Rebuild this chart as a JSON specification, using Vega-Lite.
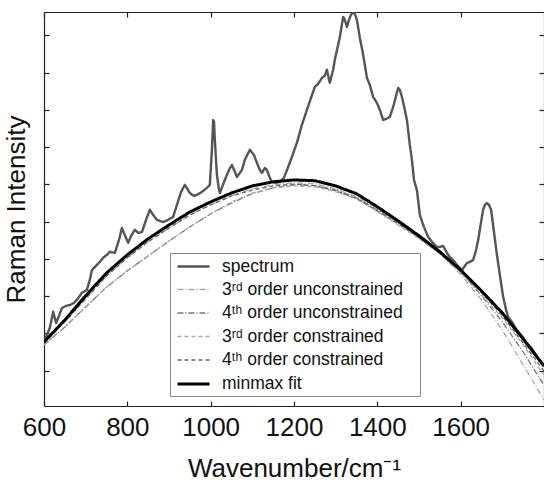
{
  "$schema": "https://vega.github.io/schema/vega-lite/v6.json",
  "width": 500,
  "height": 394,
  "autosize": {"type": "none"},
  "padding": {"left": 44, "top": 12, "right": 0, "bottom": 77},
  "background": "white",
  "config": {
    "view": {"stroke": null},
    "font": "Liberation Sans",
    "axis": {"grid": false, "domainColor": "#222", "tickColor": "#222", "domainWidth": 1.2, "tickWidth": 1.2}
  },
  "datasets": {
    "spectrum": [
      {"w":600,"v":1.77},{"w":607,"v":1.96},{"w":614,"v":2.15},{"w":622,"v":2.58},{"w":629,"v":2.28},{"w":636,"v":2.47},{"w":643,"v":2.68},{"w":653,"v":2.74},{"w":662,"v":2.76},{"w":672,"v":2.82},{"w":679,"v":2.90},{"w":691,"v":3.09},{"w":703,"v":3.17},{"w":710,"v":3.44},{"w":715,"v":3.70},{"w":727,"v":3.84},{"w":734,"v":3.92},{"w":742,"v":4.03},{"w":751,"v":4.11},{"w":758,"v":4.19},{"w":770,"v":4.16},{"w":780,"v":4.51},{"w":787,"v":4.83},{"w":794,"v":4.64},{"w":802,"v":4.43},{"w":809,"v":4.62},{"w":818,"v":4.78},{"w":826,"v":4.70},{"w":835,"v":4.72},{"w":845,"v":5.05},{"w":854,"v":5.32},{"w":862,"v":5.18},{"w":871,"v":5.05},{"w":886,"v":4.99},{"w":898,"v":5.05},{"w":910,"v":5.13},{"w":919,"v":5.45},{"w":929,"v":5.80},{"w":938,"v":5.99},{"w":950,"v":5.77},{"w":960,"v":5.69},{"w":967,"v":5.72},{"w":979,"v":5.80},{"w":991,"v":5.91},{"w":998,"v":5.99},{"w":1003,"v":6.93},{"w":1006,"v":7.73},{"w":1008,"v":7.68},{"w":1010,"v":7.20},{"w":1015,"v":6.26},{"w":1020,"v":5.85},{"w":1022,"v":5.77},{"w":1034,"v":6.12},{"w":1044,"v":6.39},{"w":1051,"v":6.52},{"w":1058,"v":6.34},{"w":1063,"v":6.20},{"w":1070,"v":6.31},{"w":1075,"v":6.39},{"w":1082,"v":6.66},{"w":1094,"v":6.93},{"w":1104,"v":6.79},{"w":1111,"v":6.58},{"w":1118,"v":6.39},{"w":1123,"v":6.31},{"w":1130,"v":6.44},{"w":1135,"v":6.39},{"w":1142,"v":6.18},{"w":1147,"v":6.07},{"w":1157,"v":6.04},{"w":1166,"v":6.07},{"w":1176,"v":6.18},{"w":1186,"v":6.47},{"w":1195,"v":6.74},{"w":1207,"v":7.12},{"w":1219,"v":7.60},{"w":1231,"v":8.00},{"w":1241,"v":8.33},{"w":1250,"v":8.62},{"w":1258,"v":8.70},{"w":1267,"v":8.86},{"w":1274,"v":8.92},{"w":1279,"v":9.08},{"w":1284,"v":8.81},{"w":1286,"v":8.73},{"w":1294,"v":9.08},{"w":1298,"v":9.35},{"w":1306,"v":9.75},{"w":1310,"v":9.96},{"w":1318,"v":10.50},{"w":1322,"v":10.42},{"w":1327,"v":10.23},{"w":1332,"v":10.42},{"w":1337,"v":10.56},{"w":1342,"v":10.62},{"w":1346,"v":10.58},{"w":1351,"v":10.42},{"w":1358,"v":9.94},{"w":1366,"v":9.48},{"w":1375,"v":8.86},{"w":1382,"v":8.67},{"w":1390,"v":8.35},{"w":1399,"v":8.19},{"w":1406,"v":8.00},{"w":1414,"v":7.73},{"w":1421,"v":7.76},{"w":1426,"v":7.79},{"w":1430,"v":7.81},{"w":1438,"v":8.08},{"w":1445,"v":8.38},{"w":1450,"v":8.59},{"w":1454,"v":8.54},{"w":1459,"v":8.35},{"w":1466,"v":8.00},{"w":1471,"v":7.73},{"w":1478,"v":7.06},{"w":1483,"v":6.66},{"w":1488,"v":6.12},{"w":1495,"v":5.85},{"w":1502,"v":5.18},{"w":1510,"v":4.91},{"w":1522,"v":4.59},{"w":1531,"v":4.46},{"w":1543,"v":4.32},{"w":1550,"v":4.32},{"w":1558,"v":4.35},{"w":1567,"v":4.16},{"w":1574,"v":4.05},{"w":1582,"v":3.97},{"w":1591,"v":3.84},{"w":1603,"v":3.70},{"w":1610,"v":3.81},{"w":1615,"v":3.89},{"w":1622,"v":3.92},{"w":1630,"v":3.97},{"w":1637,"v":4.24},{"w":1642,"v":4.51},{"w":1649,"v":4.99},{"w":1654,"v":5.32},{"w":1658,"v":5.45},{"w":1663,"v":5.50},{"w":1668,"v":5.45},{"w":1673,"v":5.32},{"w":1680,"v":4.72},{"w":1687,"v":4.11},{"w":1694,"v":3.57},{"w":1702,"v":2.98},{"w":1709,"v":2.63},{"w":1714,"v":2.44},{"w":1723,"v":2.31},{"w":1735,"v":2.08},{"w":1747,"v":1.93},{"w":1759,"v":1.74},{"w":1771,"v":1.59},{"w":1783,"v":1.38},{"w":1790,"v":1.28},{"w":1800,"v":1.14}
    ],
    "fits": [
      {"w":600,"minmax":1.77,"u3":1.74,"u4":1.69,"c3":1.69,"c4":1.74},
      {"w":650,"minmax":2.36,"u3":2.31,"u4":2.17,"c3":2.17,"c4":2.31},
      {"w":700,"minmax":3.01,"u3":2.93,"u4":2.71,"c3":2.71,"c4":2.93},
      {"w":750,"minmax":3.62,"u3":3.54,"u4":3.24,"c3":3.24,"c4":3.54},
      {"w":800,"minmax":4.11,"u3":4.03,"u4":3.68,"c3":3.68,"c4":4.03},
      {"w":850,"minmax":4.54,"u3":4.46,"u4":4.08,"c3":4.08,"c4":4.46},
      {"w":900,"minmax":4.91,"u3":4.83,"u4":4.48,"c3":4.48,"c4":4.83},
      {"w":950,"minmax":5.26,"u3":5.18,"u4":4.86,"c3":4.86,"c4":5.18},
      {"w":1000,"minmax":5.53,"u3":5.45,"u4":5.21,"c3":5.21,"c4":5.45},
      {"w":1050,"minmax":5.77,"u3":5.69,"u4":5.50,"c3":5.53,"c4":5.69},
      {"w":1100,"minmax":5.96,"u3":5.88,"u4":5.75,"c3":5.77,"c4":5.85},
      {"w":1150,"minmax":6.07,"u3":5.99,"u4":5.91,"c3":5.91,"c4":5.96},
      {"w":1200,"minmax":6.12,"u3":6.04,"u4":5.99,"c3":5.96,"c4":6.01},
      {"w":1250,"minmax":6.10,"u3":6.02,"u4":5.97,"c3":5.94,"c4":5.97},
      {"w":1300,"minmax":5.96,"u3":5.88,"u4":5.85,"c3":5.80,"c4":5.83},
      {"w":1350,"minmax":5.75,"u3":5.67,"u4":5.64,"c3":5.62,"c4":5.62},
      {"w":1400,"minmax":5.40,"u3":5.35,"u4":5.32,"c3":5.27,"c4":5.29},
      {"w":1450,"minmax":5.02,"u3":4.97,"u4":4.97,"c3":4.91,"c4":4.94},
      {"w":1500,"minmax":4.62,"u3":4.57,"u4":4.57,"c3":4.54,"c4":4.57},
      {"w":1550,"minmax":4.19,"u3":4.14,"u4":4.14,"c3":4.14,"c4":4.16},
      {"w":1600,"minmax":3.70,"u3":3.59,"u4":3.65,"c3":3.65,"c4":3.67},
      {"w":1650,"minmax":3.14,"u3":2.90,"u4":3.01,"c3":3.03,"c4":3.09},
      {"w":1700,"minmax":2.55,"u3":2.09,"u4":2.31,"c3":2.42,"c4":2.47},
      {"w":1750,"minmax":1.85,"u3":1.15,"u4":1.50,"c3":1.69,"c4":1.74},
      {"w":1800,"minmax":1.12,"u3":0.21,"u4":0.61,"c3":0.88,"c4":0.99}
    ]
  },
  "layer": [
    {
      "data": {"name": "spectrum"},
      "transform": [{"calculate": "'spectrum'", "as": "series"}],
      "mark": {"type": "line", "clip": true, "strokeJoin": "round"},
      "encoding": {
        "x": {"field": "w", "type": "quantitative", "scale": {"domain": [600, 1800], "nice": false, "zero": false},
          "axis": {"orient": "bottom", "values": [600, 800, 1000, 1200, 1400, 1600], "format": "d", "tickSize": -5, "labelFontSize": 26, "labelPadding": 13, "labelColor": "#111", "labelFlush": false,
            "title": "Wavenumber/cm⁻¹", "titleFontSize": 26, "titleFontWeight": "normal", "titleColor": "#111", "titlePadding": 15}},
        "y": {"field": "v", "type": "quantitative", "scale": {"domain": [0.05, 10.63], "nice": false, "zero": false},
          "axis": {"orient": "left", "values": [1,2,3,4,5,6,7,8,9,10], "tickSize": -5, "labels": false,
            "title": "Raman Intensity", "titleFontSize": 26, "titleFontWeight": "normal", "titleColor": "#111", "titlePadding": 14}},
        "color": {"field": "series", "type": "nominal",
          "scale": {"domain": ["spectrum", "3rd order unconstrained", "4th order unconstrained", "3rd order constrained", "4th order constrained", "minmax fit"],
                    "range": ["#555555", "#aaaaaa", "#777777", "#aaaaaa", "#666666", "#000000"]},
          "legend": {"orient": "none", "legendX": 126, "legendY": 241, "title": null, "strokeColor": "#888", "fillColor": "white", "padding": 3,
            "symbolType": "M-1.78,0H1.78", "symbolSize": 324, "symbolOffset": 10, "labelFontSize": 17.5, "labelColor": "#111", "labelOffset": 18, "labelLimit": 400, "rowPadding": 4.5,
            "labelExpr": "datum.label == '3rd order unconstrained' ? '3ʳᵈ order unconstrained⠀' : datum.label == '4th order unconstrained' ? '4ᵗʰ order unconstrained' : datum.label == '3rd order constrained' ? '3ʳᵈ order constrained' : datum.label == '4th order constrained' ? '4ᵗʰ order constrained' : datum.label"}},
        "strokeDash": {"field": "series", "type": "nominal",
          "scale": {"domain": ["spectrum", "3rd order unconstrained", "4th order unconstrained", "3rd order constrained", "4th order constrained", "minmax fit"],
                    "range": [[1, 0], [6, 2, 1, 2], [6, 2, 1, 2], [4, 3], [4, 3], [1, 0]]}},
        "strokeWidth": {"field": "series", "type": "nominal",
          "scale": {"type": "ordinal", "domain": ["spectrum", "3rd order unconstrained", "4th order unconstrained", "3rd order constrained", "4th order constrained", "minmax fit"],
                    "range": [2.4, 1.3, 1.3, 1.3, 1.3, 3]}}
      }
    },
    {
      "data": {"name": "fits"},
      "transform": [
        {"fold": ["u3", "u4", "c3", "c4", "minmax"], "as": ["key", "v"]},
        {"lookup": "key", "from": {"data": {"values": [
          {"key": "u3", "series": "3rd order unconstrained", "o": 1},
          {"key": "u4", "series": "4th order unconstrained", "o": 2},
          {"key": "c3", "series": "3rd order constrained", "o": 3},
          {"key": "c4", "series": "4th order constrained", "o": 4},
          {"key": "minmax", "series": "minmax fit", "o": 5}]}, "key": "key", "fields": ["series", "o"]}}
      ],
      "mark": {"type": "line", "clip": true},
      "encoding": {
        "x": {"field": "w", "type": "quantitative", "scale": {"domain": [600, 1800], "nice": false, "zero": false},
          "axis": {"orient": "top", "values": [600, 800, 1000, 1200, 1400, 1600], "tickSize": -5, "labels": false, "title": null}},
        "y": {"field": "v", "type": "quantitative", "scale": {"domain": [0.05, 10.63], "nice": false, "zero": false},
          "axis": {"orient": "right", "values": [1,2,3,4,5,6,7,8,9,10], "tickSize": -5, "labels": false, "title": null}},
        "order": {"field": "o"},
        "color": {"field": "series", "type": "nominal",
          "scale": {"domain": ["spectrum", "3rd order unconstrained", "4th order unconstrained", "3rd order constrained", "4th order constrained", "minmax fit"],
                    "range": ["#555555", "#aaaaaa", "#777777", "#aaaaaa", "#666666", "#000000"]}},
        "strokeDash": {"field": "series", "type": "nominal",
          "scale": {"domain": ["spectrum", "3rd order unconstrained", "4th order unconstrained", "3rd order constrained", "4th order constrained", "minmax fit"],
                    "range": [[1, 0], [6, 2, 1, 2], [6, 2, 1, 2], [4, 3], [4, 3], [1, 0]]}},
        "strokeWidth": {"field": "series", "type": "nominal",
          "scale": {"type": "ordinal", "domain": ["spectrum", "3rd order unconstrained", "4th order unconstrained", "3rd order constrained", "4th order constrained", "minmax fit"],
                    "range": [2.4, 1.3, 1.3, 1.3, 1.3, 3]}}
      }
    }
  ],
  "resolve": {"axis": {"x": "independent", "y": "independent"}}
}
